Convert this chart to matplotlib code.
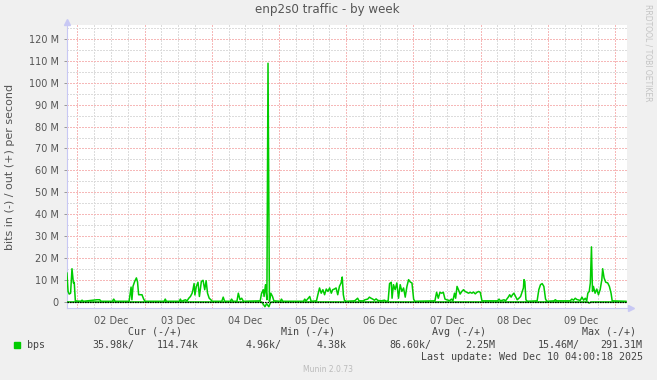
import matplotlib
matplotlib.use('Agg')
import matplotlib.pyplot as plt

# hours from 02 Dec 00:00, values in Mbit/s
out_t = [-3.7, -3.3, -2.9, -2.4, -1.9, -1.4, -1.1, -0.7,
         1.2, 1.7, 2.2, 7.0, 8.0, 8.5, 12.5, 13.0, 13.5, 18.5, 19.2, 19.5, 19.9, 20.5, 21.1, 21.5,
         21.9, 23.1, 23.7, 24.2,
         31.0, 31.4, 31.8, 36.4, 36.8, 37.2, 38.6, 39.2, 39.8, 40.4, 41.0, 41.3, 41.7, 42.0, 42.5,
         43.1, 43.6, 44.3, 44.9, 45.5, 46.0, 46.5, 47.1, 47.7, 48.2,
         51.6, 52.1, 52.6, 54.6, 55.1, 55.6, 57.0, 57.5, 58.1, 58.7, 59.3, 65.3, 65.8, 66.4, 66.7,
         67.2, 67.7, 68.1, 68.6, 69.1, 69.7, 70.2,
         72.5, 72.9, 73.4, 80.8, 81.2, 81.7, 83.0, 83.5, 85.4, 85.9, 86.5, 87.1, 87.7, 88.3, 88.9,
         89.5, 90.1, 90.7, 91.2, 91.8, 92.4, 93.0, 93.6, 94.2, 94.6, 95.0, 95.4, 96.0,
         99.0, 99.5, 100.1, 100.6, 102.2, 102.7, 103.7, 104.3, 104.9, 105.5, 106.1, 106.7, 107.3,
         108.5, 109.7, 110.3, 111.0, 111.5, 112.1, 112.4, 112.9, 113.5, 114.1, 114.7, 115.3, 115.9,
         116.5, 117.1, 117.7, 118.3, 118.9, 119.5, 120.1, 120.5,
         127.7, 128.3, 128.9, 129.5, 130.1, 130.7, 131.3, 131.9, 133.0, 133.6, 134.1, 134.7, 135.1,
         135.6, 136.1, 136.7, 137.3, 137.9, 138.5, 139.1, 139.7, 140.3, 140.9, 141.5, 142.1, 142.7,
         143.3, 143.9, 144.5,
         147.1, 150.1, 150.6, 151.1, 152.4, 152.9, 153.9, 154.4, 154.9, 155.4, 155.9, 156.5, 157.1,
         157.7, 158.3, 158.9, 159.3, 159.5, 159.8, 160.2, 160.7,
         164.2, 164.8, 165.4, 166.0, 166.6, 167.2, 167.7, 170.2, 170.7, 171.2, 176.0, 176.6, 177.2,
         177.8, 178.4, 179.6, 180.2, 180.8, 181.4, 181.9, 182.3, 182.8, 183.2, 183.6, 183.96, 184.3,
         184.9, 185.5, 186.1, 186.7, 187.3, 187.6, 188.1, 188.7, 189.4, 190.0, 190.6, 191.0, 195.9]
out_v = [13, 4.6, 3.4, 3.8, 15, 8.5, 8.8, 0.3,
         0.1, 0.6, 0.1, 0.8, 0.8, 0.1, 0.1, 1.1, 0.1, 0.1, 6.6, 0.8, 7.0, 9.2, 10.8, 9.0,
         3.1, 3.1, 1.1, 0.1,
         0.1, 1.1, 0.1, 0.1, 1.1, 0.1, 0.8, 0.3, 1.5, 2.3, 3.8, 5.4, 8.2, 3.0, 6.9,
         8.8, 2.3, 9.2, 9.7, 5.4, 9.5, 3.8, 1.5, 0.8, 0.1,
         0.1, 2.0, 0.1, 0.1, 1.1, 0.1, 0.1, 3.8, 0.8, 1.5, 0.1, 0.3, 3.8, 5.4, 2.3,
         7.7, 0.8, 109, 0.1, 3.8, 2.3, 0.3,
         0.1, 1.1, 0.1, 0.1, 1.1, 0.3, 2.3, 0.1, 0.3, 3.1, 6.2, 3.8, 5.4, 3.1, 5.7,
         4.6, 6.2, 3.8, 5.4, 5.7, 6.2, 3.1, 6.9, 8.5, 11.2, 3.1, 0.5, 0.1,
         0.3, 0.8, 1.5, 0.3, 0.3, 0.8, 1.1, 2.0, 1.5, 1.1, 0.6, 1.2, 0.5,
         0.3, 0.6, 0.1, 0.3, 8.2, 8.8, 1.5, 7.7, 5.4, 8.5, 1.5, 7.7, 4.6,
         6.2, 2.0, 6.9, 10.0, 8.9, 8.5, 1.1, 0.1,
         0.3, 4.2, 1.5, 4.2, 3.8, 4.2, 1.1, 0.8, 0.4, 1.1, 0.3, 3.8, 1.5,
         6.9, 5.4, 3.4, 4.6, 5.4, 4.6, 4.2, 3.8, 4.2, 3.8, 4.3, 3.5, 4.2,
         4.6, 4.2, 0.3,
         0.3, 0.3, 1.1, 0.3, 0.8, 0.3, 2.0, 3.1, 2.0, 3.1, 3.8, 2.3, 0.8,
         1.5, 2.3, 4.6, 6.2, 10.0, 9.2, 0.8, 0.1,
         0.3, 5.4, 7.7, 8.2, 6.9, 1.1, 0.1, 0.3, 0.8, 0.3, 0.3, 1.1, 0.6,
         1.5, 0.9, 0.5, 2.0, 0.6, 1.5, 0.3, 3.8, 4.6, 8.5, 25.0, 4.6, 6.9,
         3.8, 5.7, 3.1, 5.4, 10.0, 15.0, 10.8, 8.8, 8.5, 6.9, 3.8, 0.3, 0.1]

in_t = [-3.7, 65.8, 66.4, 67.0, 67.6, 68.4, 69.0, 69.5, 182.2, 182.8, 183.4, 195.9]
in_v = [-0.2, -0.2, -1.2, -2.4, -1.0, -2.4, -0.4, -0.2, -0.2, -0.7, -0.2, -0.2]

day_labels = ['02 Dec', '03 Dec', '04 Dec', '05 Dec', '06 Dec', '07 Dec', '08 Dec', '09 Dec']

W, H = 657, 380
def px(x, y):
    return x / W, 1 - y / H

fig = plt.figure(figsize=(W / 100, H / 100), dpi=100, facecolor='#F0F0F0')
ax = fig.add_axes([67 / W, (H - 308) / H, 560 / W, 283 / H])
ax.set_facecolor('white')
ax.set_xlim(-3.68, 196.29)
ax.set_ylim(-2.97, 126.5)

# grid, crisp dotted
dot = dict(lw=0.72, ls=(0, (1.4, 1.4)), antialiased=False, zorder=1)
for h in range(0, 197, 6):
    c = '#F6B8B8' if h % 24 == 0 else '#DCDCDC'
    ax.axvline(h, color=c, **dot)
for m in range(5, 126, 5):
    c = '#F6B8B8' if m % 10 == 0 else '#DCDCDC'
    ax.axhline(m, color=c, **dot)

ax.plot(out_t, out_v, color='#00CC00', lw=1.1, zorder=3)
ax.plot(in_t, in_v, color='#00CC00', lw=1.1, zorder=3)
ax.axhline(0, color='black', lw=0.9, ls=(0, (1.3, 0.7)), zorder=4)

# axes
for s in ['top', 'right']:
    ax.spines[s].set_visible(False)
ax.spines['left'].set_color('#C8C8F4')
ax.spines['bottom'].set_color('#C8C8F4')
ax.plot([0], [1.01], marker='^', color='#C8C8F4', ms=5, transform=ax.transAxes, clip_on=False)
ax.plot([1.008], [0], marker='>', color='#C8C8F4', ms=5, transform=ax.transAxes, clip_on=False)

yt = list(range(0, 121, 10))
ax.set_yticks(yt)
ax.set_yticklabels(['0'] + ['%d M' % v for v in yt[1:]])
ax.set_xticks([12 + 24 * i for i in range(len(day_labels))])
ax.set_xticklabels(day_labels)
ax.tick_params(axis='both', colors='#999999', labelcolor='#555555', labelsize=7, length=2.5, width=0.7)
ax.tick_params(axis='x', length=0, pad=6)

fig.text(*px(327, 10), 'enp2s0 traffic - by week', ha='center', va='center', fontsize=8.6, color='#555555')
fig.text(*px(10, 167), 'bits in (-) / out (+) per second', ha='center', va='center',
         rotation=90, fontsize=8, color='#555555')
fig.text(*px(648, 53), 'RRDTOOL / TOBI OETIKER', ha='center', va='center', rotation=270,
         fontsize=5.5, color='#C4C4C4')

mono = dict(family='DejaVu Sans Mono', fontsize=7.2, color='#444444', va='center')
fig.text(*px(155.5, 332), 'Cur (-/+)', ha='center', **mono)
fig.text(*px(308, 332), 'Min (-/+)', ha='center', **mono)
fig.text(*px(458.5, 332), 'Avg (-/+)', ha='center', **mono)
fig.text(*px(609.5, 332), 'Max (-/+)', ha='center', **mono)
fig.patches.append(plt.Rectangle(px(14, 348), 6 / W, 6 / H, color='#00CC00', transform=fig.transFigure))
fig.text(*px(26.5, 345), 'bps', ha='left', **mono)
fig.text(*px(92, 345), '35.98k/', ha='left', **mono)
fig.text(*px(156.5, 345), '114.74k', ha='left', **mono)
fig.text(*px(246, 345), '4.96k/', ha='left', **mono)
fig.text(*px(346.7, 345), '4.38k', ha='right', **mono)
fig.text(*px(389.3, 345), '86.60k/', ha='left', **mono)
fig.text(*px(495, 345), '2.25M', ha='right', **mono)
fig.text(*px(537.3, 345), '15.46M/', ha='left', **mono)
fig.text(*px(642.7, 345), '291.31M', ha='right', **mono)
fig.text(*px(642.7, 357), 'Last update: Wed Dec 10 04:00:18 2025', ha='right', **mono)
fig.text(*px(328, 369), 'Munin 2.0.73', ha='center', va='center', fontsize=5.5, color='#BBBBBB')

fig.savefig('out.png', dpi=100, facecolor=fig.get_facecolor())
